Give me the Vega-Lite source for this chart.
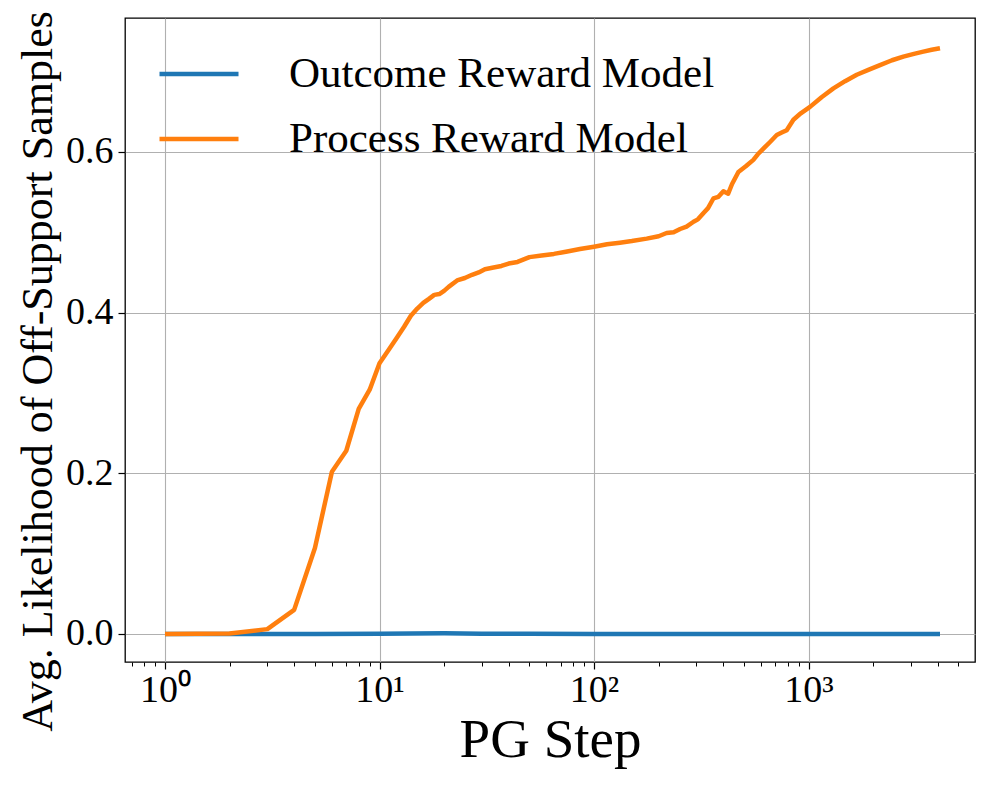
{
  "$schema": "https://vega.github.io/schema/vega-lite/v6.json",
  "width": 850,
  "height": 644,
  "autosize": "none",
  "padding": {"left": 125, "top": 18, "right": 22, "bottom": 125},
  "background": "white",
  "config": {
    "view": {"stroke": "#000000", "strokeWidth": 1.3},
    "font": "Liberation Serif",
    "axis": {
      "domain": false,
      "gridColor": "#b0b0b0",
      "gridWidth": 1.1,
      "tickColor": "#000000",
      "tickWidth": 1.2,
      "tickSize": 7,
      "labelColor": "#000000",
      "labelFont": "Liberation Serif",
      "labelFontSize": 38,
      "titleColor": "#000000",
      "titleFont": "Liberation Serif",
      "titleFontWeight": "normal"
    }
  },
  "data": {
    "values": [
      {"step": 1, "value": 0, "model": "Outcome Reward Model"},
      {"step": 2, "value": 0, "model": "Outcome Reward Model"},
      {"step": 5, "value": 0, "model": "Outcome Reward Model"},
      {"step": 10, "value": 0.0003, "model": "Outcome Reward Model"},
      {"step": 20, "value": 0.0008, "model": "Outcome Reward Model"},
      {"step": 30, "value": 0.0004, "model": "Outcome Reward Model"},
      {"step": 50, "value": 0.0002, "model": "Outcome Reward Model"},
      {"step": 100, "value": 0.0001, "model": "Outcome Reward Model"},
      {"step": 1000, "value": 0, "model": "Outcome Reward Model"},
      {"step": 4100, "value": 0, "model": "Outcome Reward Model"},
      {"step": 1, "value": 0, "model": "Process Reward Model"},
      {"step": 2, "value": 0.0005, "model": "Process Reward Model"},
      {"step": 3, "value": 0.006, "model": "Process Reward Model"},
      {"step": 4, "value": 0.030, "model": "Process Reward Model"},
      {"step": 5, "value": 0.107, "model": "Process Reward Model"},
      {"step": 6, "value": 0.202, "model": "Process Reward Model"},
      {"step": 7, "value": 0.228, "model": "Process Reward Model"},
      {"step": 8, "value": 0.280, "model": "Process Reward Model"},
      {"step": 9, "value": 0.304, "model": "Process Reward Model"},
      {"step": 10, "value": 0.337, "model": "Process Reward Model"},
      {"step": 11, "value": 0.353, "model": "Process Reward Model"},
      {"step": 12, "value": 0.368, "model": "Process Reward Model"},
      {"step": 13, "value": 0.382, "model": "Process Reward Model"},
      {"step": 14, "value": 0.396, "model": "Process Reward Model"},
      {"step": 15, "value": 0.405, "model": "Process Reward Model"},
      {"step": 16, "value": 0.412, "model": "Process Reward Model"},
      {"step": 17, "value": 0.417, "model": "Process Reward Model"},
      {"step": 18, "value": 0.422, "model": "Process Reward Model"},
      {"step": 19, "value": 0.423, "model": "Process Reward Model"},
      {"step": 20, "value": 0.427, "model": "Process Reward Model"},
      {"step": 21, "value": 0.432, "model": "Process Reward Model"},
      {"step": 23, "value": 0.440, "model": "Process Reward Model"},
      {"step": 25, "value": 0.443, "model": "Process Reward Model"},
      {"step": 27, "value": 0.447, "model": "Process Reward Model"},
      {"step": 29, "value": 0.450, "model": "Process Reward Model"},
      {"step": 31, "value": 0.454, "model": "Process Reward Model"},
      {"step": 34, "value": 0.456, "model": "Process Reward Model"},
      {"step": 37, "value": 0.458, "model": "Process Reward Model"},
      {"step": 40, "value": 0.461, "model": "Process Reward Model"},
      {"step": 44, "value": 0.463, "model": "Process Reward Model"},
      {"step": 50, "value": 0.469, "model": "Process Reward Model"},
      {"step": 57, "value": 0.471, "model": "Process Reward Model"},
      {"step": 65, "value": 0.473, "model": "Process Reward Model"},
      {"step": 75, "value": 0.476, "model": "Process Reward Model"},
      {"step": 86, "value": 0.479, "model": "Process Reward Model"},
      {"step": 100, "value": 0.482, "model": "Process Reward Model"},
      {"step": 115, "value": 0.485, "model": "Process Reward Model"},
      {"step": 132, "value": 0.487, "model": "Process Reward Model"},
      {"step": 150, "value": 0.489, "model": "Process Reward Model"},
      {"step": 176, "value": 0.492, "model": "Process Reward Model"},
      {"step": 200, "value": 0.495, "model": "Process Reward Model"},
      {"step": 218, "value": 0.499, "model": "Process Reward Model"},
      {"step": 235, "value": 0.500, "model": "Process Reward Model"},
      {"step": 252, "value": 0.504, "model": "Process Reward Model"},
      {"step": 270, "value": 0.507, "model": "Process Reward Model"},
      {"step": 291, "value": 0.513, "model": "Process Reward Model"},
      {"step": 305, "value": 0.516, "model": "Process Reward Model"},
      {"step": 324, "value": 0.524, "model": "Process Reward Model"},
      {"step": 340, "value": 0.530, "model": "Process Reward Model"},
      {"step": 360, "value": 0.542, "model": "Process Reward Model"},
      {"step": 380, "value": 0.544, "model": "Process Reward Model"},
      {"step": 401, "value": 0.551, "model": "Process Reward Model"},
      {"step": 422, "value": 0.548, "model": "Process Reward Model"},
      {"step": 440, "value": 0.560, "model": "Process Reward Model"},
      {"step": 471, "value": 0.575, "model": "Process Reward Model"},
      {"step": 510, "value": 0.582, "model": "Process Reward Model"},
      {"step": 553, "value": 0.590, "model": "Process Reward Model"},
      {"step": 580, "value": 0.597, "model": "Process Reward Model"},
      {"step": 616, "value": 0.604, "model": "Process Reward Model"},
      {"step": 660, "value": 0.612, "model": "Process Reward Model"},
      {"step": 711, "value": 0.621, "model": "Process Reward Model"},
      {"step": 750, "value": 0.624, "model": "Process Reward Model"},
      {"step": 791, "value": 0.627, "model": "Process Reward Model"},
      {"step": 850, "value": 0.640, "model": "Process Reward Model"},
      {"step": 920, "value": 0.648, "model": "Process Reward Model"},
      {"step": 1016, "value": 0.656, "model": "Process Reward Model"},
      {"step": 1150, "value": 0.668, "model": "Process Reward Model"},
      {"step": 1306, "value": 0.679, "model": "Process Reward Model"},
      {"step": 1480, "value": 0.688, "model": "Process Reward Model"},
      {"step": 1678, "value": 0.696, "model": "Process Reward Model"},
      {"step": 1900, "value": 0.702, "model": "Process Reward Model"},
      {"step": 2153, "value": 0.708, "model": "Process Reward Model"},
      {"step": 2450, "value": 0.714, "model": "Process Reward Model"},
      {"step": 2767, "value": 0.7185, "model": "Process Reward Model"},
      {"step": 3100, "value": 0.722, "model": "Process Reward Model"},
      {"step": 3430, "value": 0.7247, "model": "Process Reward Model"},
      {"step": 3750, "value": 0.727, "model": "Process Reward Model"},
      {"step": 4100, "value": 0.729, "model": "Process Reward Model"}
    ]
  },
  "layer": [
    {
      "mark": {"type": "line", "strokeWidth": 4.5, "strokeCap": "butt", "strokeJoin": "round"},
      "encoding": {
        "x": {
          "field": "step",
          "type": "quantitative",
          "scale": {"type": "log", "domain": [0.651, 5970], "nice": false},
          "axis": {
            "orient": "bottom",
            "grid": true,
            "values": [1, 10, 100, 1000],
            "labelExpr": "datum.value == 1 ? '10⁰' : datum.value == 10 ? '10¹' : datum.value == 100 ? '10²' : '10³'",
            "labelPadding": 2,
            "title": "PG Step",
            "titleFontSize": 55,
            "titlePadding": 4
          }
        },
        "y": {
          "field": "value",
          "type": "quantitative",
          "scale": {"domain": [-0.0349, 0.7666], "nice": false, "zero": false},
          "axis": {
            "grid": true,
            "values": [0, 0.2, 0.4, 0.6],
            "format": ".1f",
            "labelPadding": 5,
            "title": "Avg. Likelihood of Off-Support Samples",
            "titleFontSize": 44,
            "titleY": 353,
            "titlePadding": 5
          }
        },
        "color": {
          "field": "model",
          "type": "nominal",
          "scale": {"domain": ["Outcome Reward Model", "Process Reward Model"], "range": ["#1f77b4", "#ff7f0e"]},
          "legend": {
            "title": null,
            "orient": "none",
            "legendX": 32,
            "legendY": 14,
            "symbolType": "stroke",
            "symbolSize": 6241,
            "symbolStrokeWidth": 4.5,
            "labelFont": "Liberation Serif",
            "labelFontSize": 43,
            "labelColor": "#000000",
            "labelLimit": 0,
            "labelOffset": 48,
            "rowPadding": 1,
            "padding": 0
          }
        }
      }
    },
    {
      "mark": {"type": "rule", "strokeOpacity": 0},
      "encoding": {
        "x": {
          "field": "step",
          "type": "quantitative",
          "scale": {"type": "log", "domain": [0.651, 5970], "nice": false},
          "axis": {
            "orient": "bottom",
            "values": [0.7, 0.8, 0.9, 2, 3, 4, 5, 6, 7, 8, 9, 20, 30, 40, 50, 60, 70, 80, 90, 200, 300, 400, 500, 600, 700, 800, 900, 2000, 3000, 4000, 5000],
            "labels": false,
            "grid": false,
            "tickSize": 4,
            "tickWidth": 1,
            "title": null
          }
        }
      }
    }
  ],
  "resolve": {"axis": {"x": "independent"}}
}
